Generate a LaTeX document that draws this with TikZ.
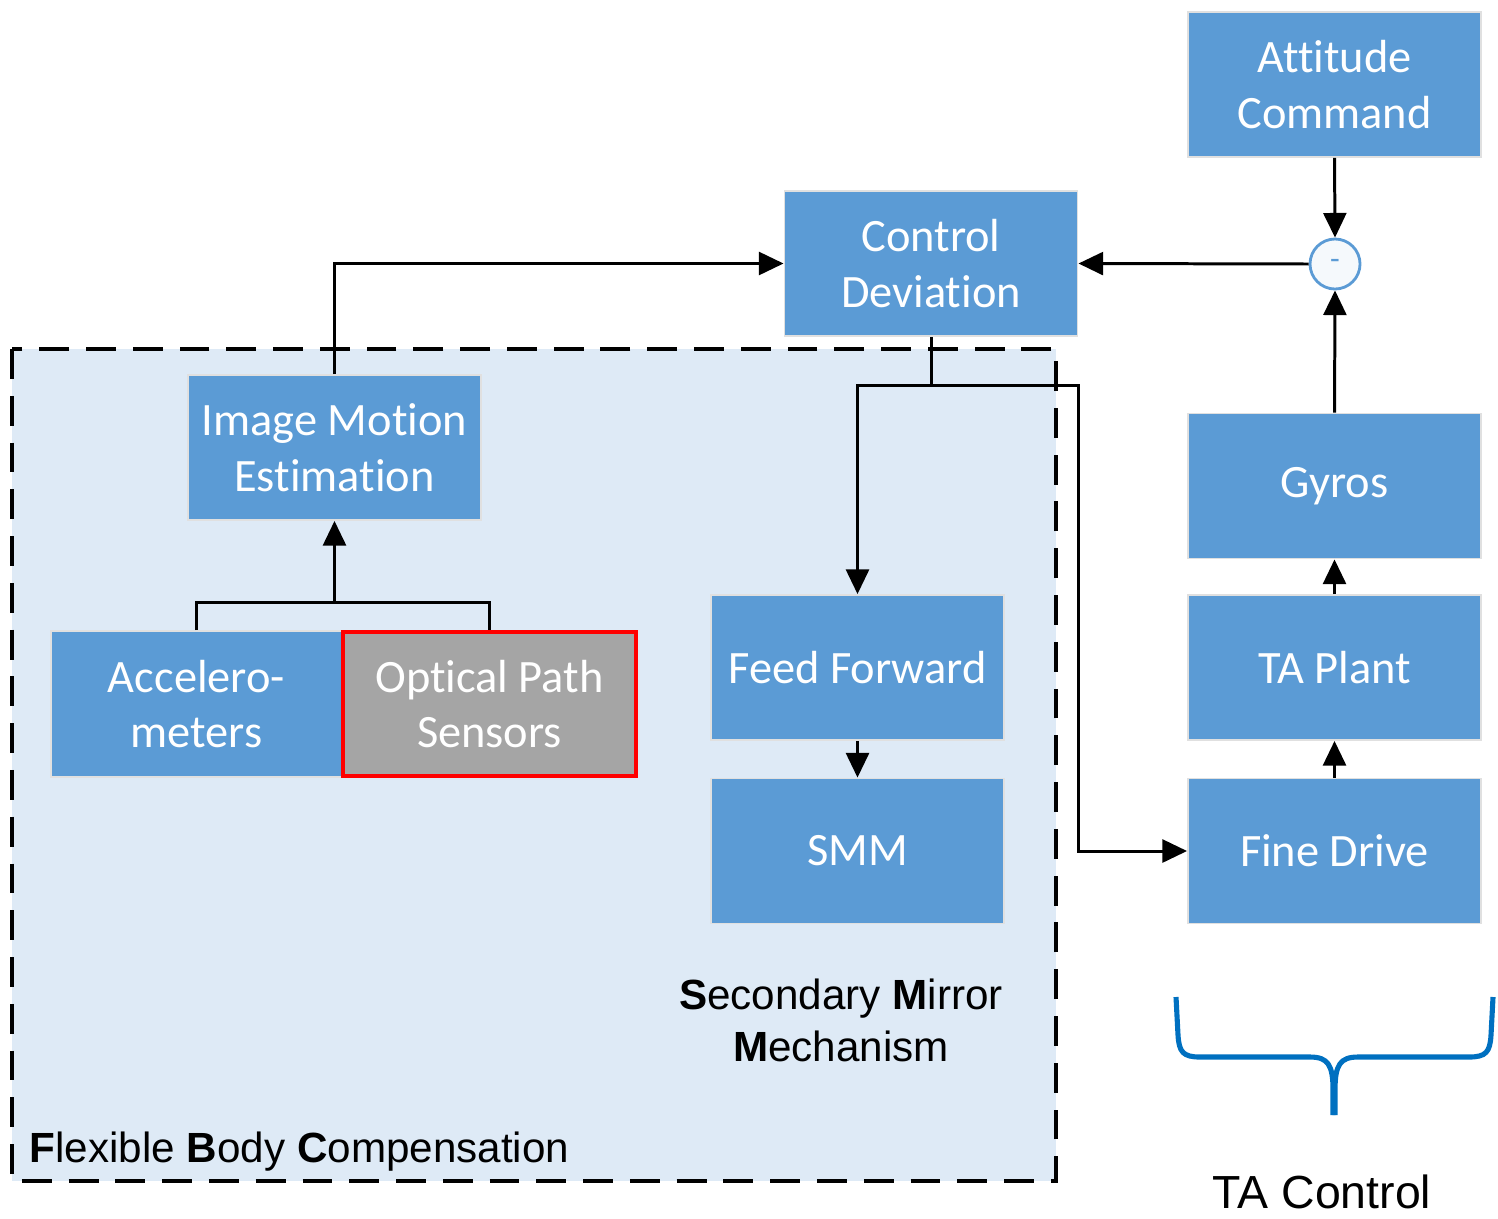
\documentclass[tikz,border=0pt]{standalone}
\usepackage{fontspec}
\setmainfont{Liberation Sans}
\newfontfamily\boxfont[Ligatures=NoCommon]{Carlito}
\usetikzlibrary{arrows.meta}
\definecolor{boxblue}{HTML}{5B9BD5}
\definecolor{regionfill}{HTML}{DEEAF6}
\definecolor{bracecol}{HTML}{0070C0}
\definecolor{optgray}{HTML}{A5A5A5}
\definecolor{optred}{HTML}{FF0000}

\begin{document}
\begin{tikzpicture}[x=0.01cm,y=-0.01cm,
  blockbox/.style={fill=boxblue, draw=black!12, line width=0.5pt, text=white,
    align=center, minimum width=2.93cm, minimum height=1.45cm, inner sep=0pt,
    font=\boxfont\fontsize{13.2}{15.9}\selectfont},
  link/.style={line width=0.85pt, draw=black},
  arr/.style={link, -{Triangle[length=7pt,width=6.5pt]}},
  caption/.style={font=\fontsize{12}{14.8}\selectfont, align=center, inner sep=0pt},
]
\useasboundingbox (0,0) rectangle (1498,1218);

% flexible body compensation region
\draw[fill=regionfill, line width=1.15pt, dash pattern=on 8.5pt off 4.8pt]
  (12,349) rectangle (1056,1181);

% blocks
\node[blockbox] (att) at (1334.5,84.5) {Attitude\\Command};
\node[blockbox] (ctl) at (931,263.5) {Control\\Deviation};
\node[blockbox] (ime) at (334.5,447.5) {Image Motion\\Estimation};
\node[blockbox, minimum width=2.91cm, minimum height=1.46cm] (acc) at (196.5,704) {Accelero-\\meters};
\node[blockbox, fill=optgray, draw=optred, line width=1.1pt, minimum width=2.93cm, minimum height=1.44cm] (opt) at (489.5,704) {Optical Path\\Sensors};
\node[blockbox] (ff) at (857.5,667.5) {Feed Forward};
\node[blockbox] (smm) at (857.5,851) {SMM};
\node[blockbox] (gyr) at (1334.5,486) {Gyros};
\node[blockbox] (tap) at (1334.5,667.5) {TA Plant};
\node[blockbox] (fine) at (1334.5,851) {Fine Drive};

% summing junction
\node[circle, minimum size=0.5cm, inner sep=0pt, draw=boxblue, line width=0.8pt,
  fill=boxblue!6, text=boxblue, font=\boxfont\fontsize{9}{9}\selectfont] (sum) at (1335,264) {-};

% connectors
\draw[arr] (att.south) -- (sum.north);
\draw[arr] (gyr.north) -- (sum.south);
\draw[arr] (sum.west) -- (ctl.east);
\draw[arr] (ime.north) |- (ctl.west);

\coordinate (split) at (931,385);
\coordinate (bend) at (1078,385);
\draw[link] (ctl.south) -- (split);
\draw[arr] (split) -| (ff.north);
\draw[arr] (split) -- (bend) |- (fine.west);
\draw[arr] (ff.south) -- (smm.north);
\draw[arr] (fine.north) -- (tap.south);
\draw[arr] (tap.north) -- (gyr.south);

\coordinate (join) at (334.5,603);
\draw[link] (acc.north) -- ++(0,-28) -| (opt.north);
\draw[arr] (join) -- (ime.south);

% captions
\node[caption] (smmlabel) at (841,1020) {\textbf{S}econdary \textbf{M}irror\\\textbf{M}echanism};
\node[caption, anchor=west] (fbclabel) at (29,1152) {\textbf{F}lexible \textbf{B}ody \textbf{C}ompensation};

% TA control brace
\draw[bracecol, line width=1.45pt]
  (1176,997) -- (1178,1035) .. controls (1179,1052) and (1183,1057) .. (1200,1057)
  -- (1310,1057) .. controls (1328,1057) and (1333,1065) .. (1333,1090) -- (1333,1115);
\draw[bracecol, line width=1.45pt]
  (1493,997) -- (1491,1035) .. controls (1490,1052) and (1486,1057) .. (1469,1057)
  -- (1358,1057) .. controls (1340,1057) and (1335,1065) .. (1335,1090) -- (1335,1115);
\node[font=\fontsize{13.2}{15}\selectfont, inner sep=0pt] (talabel) at (1322,1192) {TA Control};
\end{tikzpicture}
\end{document}
